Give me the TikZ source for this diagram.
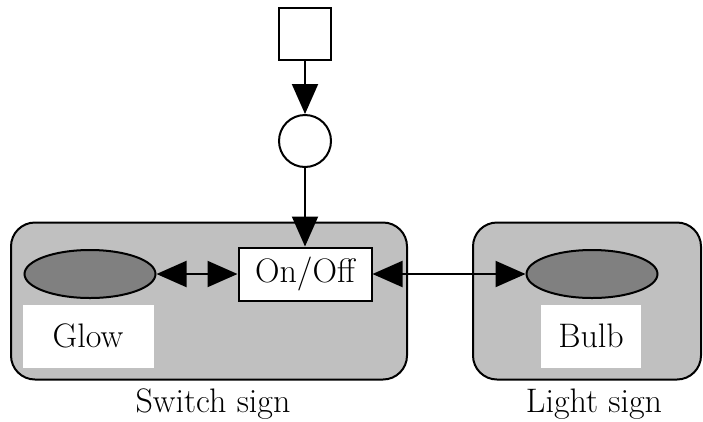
\documentclass[tikz,border=0pt]{standalone}
\usepackage{tikz}
\usetikzlibrary{arrows.meta,shapes.geometric}
\definecolor{Panel}{HTML}{C0C0C0}
\definecolor{Lamp}{HTML}{808080}

\begin{document}
\begin{tikzpicture}[x=1pt,y=-1pt,
  font=\fontsize{34}{40}\selectfont,
  panel/.style={rectangle,rounded corners=24pt,draw=black,fill=Panel,line width=2pt},
  lamp/.style={ellipse,draw=black,fill=Lamp,line width=2pt,minimum width=131pt,minimum height=48pt,inner sep=0pt},
  tag/.style={rectangle,fill=white,minimum height=63pt,inner sep=0pt},
  box/.style={rectangle,draw=black,fill=white,line width=2pt,inner sep=0pt},
  place/.style={circle,draw=black,fill=white,line width=2pt,minimum size=52pt,inner sep=0pt},
  arr/.style={line width=2pt,-{Triangle[length=30pt,width=26pt]}},
  darr/.style={line width=2pt,{Triangle[length=30pt,width=26pt]}-{Triangle[length=30pt,width=26pt]}}
]
\useasboundingbox (0,0) rectangle (703,421);
\node[panel,minimum width=396pt,minimum height=157pt] (switch) at (209,301) {};
\node[panel,minimum width=228pt,minimum height=157pt] (light) at (587,301) {};
\node[box,minimum size=52pt] (src) at (305,34) {};
\node[place] (p1) at (305,141) {};
\node[box,minimum width=133pt,minimum height=53pt] (onoff) at (305,274) {On/Off};
\node[lamp] (glow) at (90,274) {};
\node[lamp] (bulb) at (592,274) {};
\node[tag,minimum width=131pt] (glowtag) at (88,336) {Glow};
\node[tag,minimum width=100pt] (bulbtag) at (591,336) {Bulb};
\node (switchlbl) at (213,404) {Switch sign};
\node (lightlbl) at (594,404) {Light sign};
\draw[arr] (src) -- (p1);
\draw[arr] (p1) -- (onoff);
\draw[darr] (glow) -- (onoff);
\draw[darr] (onoff) -- (bulb);
\end{tikzpicture}
\end{document}
